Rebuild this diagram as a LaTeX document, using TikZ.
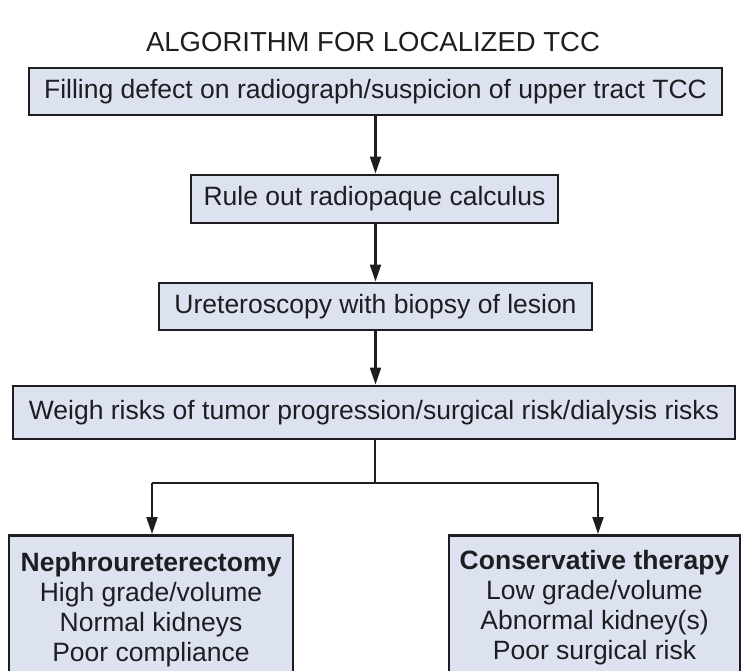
\documentclass[tikz,border=0pt]{standalone}
\usepackage{fontspec}
\setmainfont{Liberation Sans}
\usetikzlibrary{arrows.meta}
\definecolor{boxfill}{RGB}{221,226,240}
\definecolor{ink}{RGB}{30,30,34}
\begin{document}
\begin{tikzpicture}[x=1pt,y=-1pt,
  txt/.style={text=ink,font=\fontsize{26.5}{30}\selectfont},
  box/.style={txt,draw=ink,line width=2.9pt,fill=boxfill,inner sep=0pt,rectangle},
  arr/.style={draw=ink,line width=2.1pt,-{Triangle[length=17pt,width=11pt]}},
  conn/.style={draw=ink,line width=2.1pt}]
\useasboundingbox (0,0) rectangle (747,670);
\clip (0,0) rectangle (747,670);
\node[txt,font=\fontsize{27.5}{30}\selectfont] (title) at (373,42) {ALGORITHM FOR LOCALIZED TCC};
\node[box,minimum width=693pt,minimum height=47pt] (b1) at (375.5,91.5) {Filling defect on radiograph/suspicion of upper tract TCC};
\node[box,minimum width=367pt,minimum height=48pt] (b2) at (374.5,199) {Rule out radiopaque calculus};
\node[box,minimum width=433pt,minimum height=47pt] (b3) at (375.5,306.5) {Ureteroscopy with biopsy of lesion};
\node[box,minimum width=722pt,minimum height=53pt] (b4) at (374,412.5) {Weigh risks of tumor progression/surgical risk/dialysis risks};
\node[box,anchor=north,minimum width=284pt,minimum height=170pt] (neph) at (151,534) {};
\node[box,anchor=north,minimum width=291pt,minimum height=170pt] (cons) at (594.5,534) {};
\node[txt,align=center,anchor=north,inner sep=0pt] (nephtxt) at (151,552.5) {\textbf{Nephroureterectomy}\\High grade/volume\\Normal kidneys\\Poor compliance};
\node[txt,align=center,anchor=north,inner sep=0pt] (constxt) at (594.5,550.5) {\textbf{Conservative therapy}\\Low grade/volume\\Abnormal kidney(s)\\Poor surgical risk};
\draw[arr] (b1.south) -- (b1.south |- b2.north);
\draw[arr] (b2.south -| b1.south) -- (b1.south |- b3.north);
\draw[arr] (b3.south -| b1.south) -- (b1.south |- b4.north);
\coordinate (split) at (375,483);
\coordinate (jl) at (152,483);
\coordinate (jr) at (598,483);
\draw[conn] (b4.south -| split) -- (split);
\draw[conn] (jl) -- (jr);
\draw[arr] (jl) -- (jl |- neph.north);
\draw[arr] (jr) -- (jr |- cons.north);
\end{tikzpicture}
\end{document}
